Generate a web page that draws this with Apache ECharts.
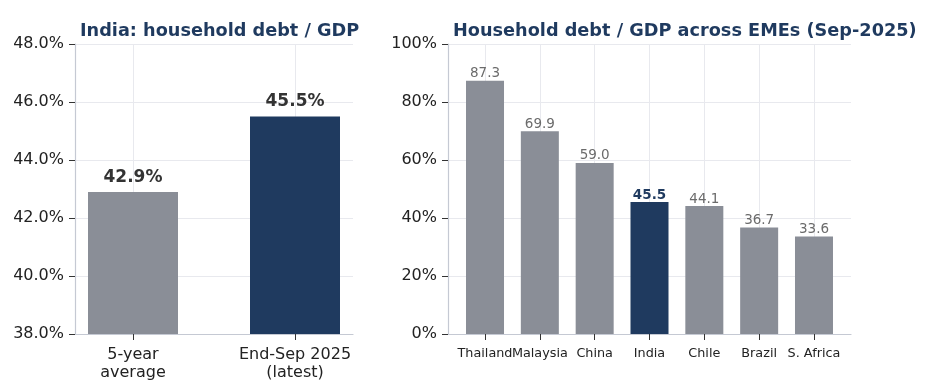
<!DOCTYPE html>
<html>
<head>
<meta charset="utf-8">
<script src="https://cdn.jsdelivr.net/npm/echarts@6/dist/echarts.min.js"></script>
<style>
  html, body { margin: 0; padding: 0; background: #fff; }
  #chart { width: 934px; height: 391px; }
</style>
</head>
<body>
<div id="chart"></div>
<script>
// left panel: India, average vs latest
const indiaLabels = ['5-year\naverage', 'End-Sep 2025\n(latest)'];
const indiaValues = [42.9, 45.5];

// right panel: EME comparison
const countries = ['Thailand', 'Malaysia', 'China', 'India', 'Chile', 'Brazil', 'S. Africa'];
const debtRatios = [87.3, 69.9, 59.0, 45.5, 44.1, 36.7, 33.6];
const highlight = 'India';

const GREY = '#8a8e97';
const NAVY = '#1f3a5f';
const AXIS = '#c5c9d3';
const GRID = '#e8e9ee';
const FONT = 'DejaVu Sans';

var chart = echarts.init(document.getElementById('chart'));

var leftData = indiaValues.map(function (v, i) {
  return { value: [i, v], itemStyle: { color: i === indiaValues.length - 1 ? NAVY : GREY } };
});

var rightData = debtRatios.map(function (v, i) {
  var hi = countries[i] === highlight;
  return {
    value: [i, v],
    itemStyle: { color: hi ? NAVY : GREY },
    label: { color: hi ? NAVY : '#6b6b6b', fontWeight: hi ? 'bold' : 'normal' }
  };
});

var idxLeft = indiaLabels.map(function (_, i) { return i; });
var idxRight = countries.map(function (_, i) { return i; });
// Thailand and Malaysia labels touch, so even / odd labels go on two stacked axes
var idxEven = idxRight.filter(function (i) { return i % 2 === 0; });
var idxOdd = idxRight.filter(function (i) { return i % 2 === 1; });

function countryLabel(v) { return countries[Math.round(v)] || ''; }

var option = {
  animation: false,
  textStyle: { fontFamily: FONT },
  title: [
    {
      text: 'India: household debt / GDP',
      left: 75, top: 17,
      textStyle: { fontFamily: FONT, fontSize: 17.7, fontWeight: 'bold', color: NAVY }
    },
    {
      text: 'Household debt / GDP across EMEs (Sep-2025)',
      left: 448, top: 17,
      textStyle: { fontFamily: FONT, fontSize: 17.7, fontWeight: 'bold', color: NAVY }
    }
  ],
  grid: [
    { left: 75, top: 44, width: 278, height: 290 },
    { left: 448, top: 44, width: 403, height: 290 }
  ],
  xAxis: [
    {
      type: 'value', gridIndex: 0,
      min: -0.358, max: 1.358,
      axisLine: { show: true, onZero: false, lineStyle: { color: AXIS, width: 1.2 } },
      axisTick: { show: true, length: 6, customValues: idxLeft, lineStyle: { color: '#333', width: 1 } },
      axisLabel: {
        customValues: idxLeft,
        formatter: function (v) { return indiaLabels[Math.round(v)] || ''; },
        fontSize: 16, color: '#222', margin: 12, lineHeight: 18
      },
      splitLine: { show: true, lineStyle: { color: GRID } }
    },
    {
      type: 'value', gridIndex: 1, position: 'bottom',
      min: -0.675, max: 6.675,
      axisLine: { show: true, onZero: false, lineStyle: { color: AXIS, width: 1.2 } },
      axisTick: { show: true, length: 6, customValues: idxRight, lineStyle: { color: '#333', width: 1 } },
      axisLabel: {
        customValues: idxEven,
        formatter: countryLabel,
        fontSize: 12.8, color: '#222', margin: 13
      },
      splitLine: { show: true, lineStyle: { color: GRID } }
    },
    {
      type: 'value', gridIndex: 1, position: 'bottom', offset: 0,
      min: -0.675, max: 6.675,
      axisLine: { show: false, onZero: false },
      axisTick: { show: false },
      axisLabel: {
        customValues: idxOdd,
        formatter: countryLabel,
        fontSize: 12.8, color: '#222', margin: 13
      },
      splitLine: { show: false }
    }
  ],
  yAxis: [
    {
      type: 'value', gridIndex: 0,
      min: 38, max: 48, interval: 2,
      axisLine: { show: true, onZero: false, lineStyle: { color: AXIS, width: 1.2 } },
      axisTick: { show: true, length: 6, lineStyle: { color: '#333' } },
      axisLabel: {
        formatter: function (v) { return v.toFixed(1) + '%'; },
        fontSize: 16, color: '#222', margin: 11
      },
      splitLine: { show: true, lineStyle: { color: GRID } }
    },
    {
      type: 'value', gridIndex: 1,
      min: 0, max: 100, interval: 20,
      axisLine: { show: true, onZero: false, lineStyle: { color: AXIS, width: 1.2 } },
      axisTick: { show: true, length: 6, lineStyle: { color: '#333' } },
      axisLabel: {
        formatter: '{value}%',
        fontSize: 16, color: '#222', margin: 11
      },
      splitLine: { show: true, lineStyle: { color: GRID } }
    }
  ],
  series: [
    {
      type: 'bar', xAxisIndex: 0, yAxisIndex: 0,
      barWidth: 90,
      data: leftData,
      label: {
        show: true, position: 'top', distance: 6,
        formatter: function (p) { return p.value[1].toFixed(1) + '%'; },
        fontSize: 17, fontWeight: 'bold', color: '#333'
      }
    },
    {
      type: 'bar', xAxisIndex: 1, yAxisIndex: 1,
      barWidth: 38,
      data: rightData,
      label: {
        show: true, position: 'top', distance: 0,
        formatter: function (p) { return p.value[1].toFixed(1); },
        fontSize: 13.5
      }
    }
  ]
};

chart.setOption(option);
</script>
</body>
</html>
